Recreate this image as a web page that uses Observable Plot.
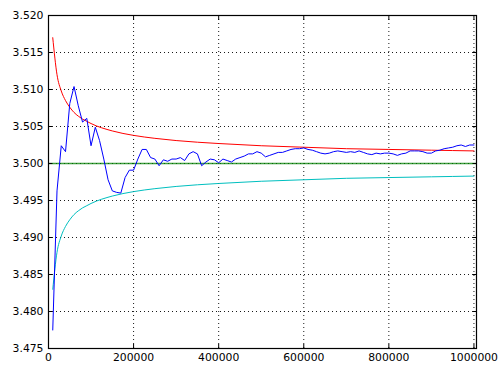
<!DOCTYPE html>
<html>
<head>
<meta charset="utf-8">
<script src="https://cdn.jsdelivr.net/npm/d3@7"></script>
<script src="https://cdn.jsdelivr.net/npm/@observablehq/plot@0.6"></script>
<style>
  html, body { margin: 0; padding: 0; background: #fff; }
  #chart svg { display: block; }
</style>
</head>
<body>
<div id="chart"></div>
<script>
// Sample counts for the noisy estimate (blue)
const samples = [
  10000, 20000, 30000, 40000, 50000, 60000, 70000, 80000, 90000, 100000,
  110000, 120000, 130000, 140000, 150000, 160000, 170000, 180000, 190000, 200000,
  210000, 220000, 230000, 240000, 250000, 260000, 270000, 280000, 290000, 300000,
  310000, 320000, 330000, 340000, 350000, 360000, 370000, 380000, 390000, 400000,
  410000, 420000, 430000, 440000, 450000, 460000, 470000, 480000, 490000, 500000,
  510000, 520000, 530000, 540000, 550000, 560000, 570000, 580000, 590000, 600000,
  610000, 620000, 630000, 640000, 650000, 660000, 670000, 680000, 690000, 700000,
  710000, 720000, 730000, 740000, 750000, 760000, 770000, 780000, 790000, 800000,
  810000, 820000, 830000, 840000, 850000, 860000, 870000, 880000, 890000, 900000,
  910000, 920000, 930000, 940000, 950000, 960000, 970000, 980000, 990000, 1000000
];
const estimate = [
  3.4775, 3.4963, 3.5024, 3.5016, 3.5081, 3.5104, 3.5078, 3.5056, 3.5061, 3.5024,
  3.5049, 3.5031, 3.5006, 3.4978, 3.4963, 3.4961, 3.4960, 3.4981, 3.4991, 3.4991,
  3.5006, 3.5019, 3.5019, 3.5008, 3.5006, 3.4997, 3.5005, 3.5003, 3.5006, 3.5006,
  3.5008, 3.5004, 3.5013, 3.5016, 3.5013, 3.4997, 3.5002, 3.5006, 3.5005, 3.5001,
  3.5006, 3.5004, 3.5002, 3.5006, 3.5008, 3.5010, 3.5013, 3.5013, 3.5016, 3.5014,
  3.5009, 3.5011, 3.5013, 3.5015, 3.5015, 3.5017, 3.5019, 3.5020, 3.5020, 3.5021,
  3.5019, 3.5018, 3.5016, 3.5014, 3.5013, 3.5014, 3.5016, 3.5017, 3.5016, 3.5015,
  3.5016, 3.5015, 3.5017, 3.5015, 3.5013, 3.5012, 3.5014, 3.5013, 3.5014, 3.5014,
  3.5013, 3.5011, 3.5013, 3.5014, 3.5017, 3.5017, 3.5017, 3.5016, 3.5014, 3.5014,
  3.5017, 3.5018, 3.5020, 3.5021, 3.5022, 3.5024, 3.5025, 3.5023, 3.5025, 3.5025
];

// Envelope curves (red upper, cyan lower), read at selected sample counts
const bandN = [
  10000, 20000, 30000, 40000, 50000, 60000, 70000, 80000, 90000, 100000,
  150000, 200000, 250000, 300000, 400000, 500000, 600000, 700000, 800000, 900000, 1000000
];
const upper = [
  3.5170, 3.5120, 3.5098, 3.5085, 3.5076, 3.5069, 3.5064, 3.5060, 3.5057, 3.5054,
  3.5044, 3.5038, 3.5034, 3.5031, 3.5027, 3.5024, 3.5022, 3.5020, 3.5019, 3.5018, 3.5017
];
const lower = [
  3.4830, 3.4880, 3.4902, 3.4915, 3.4924, 3.4931, 3.4936, 3.4940, 3.4943, 3.4946,
  3.4956, 3.4962, 3.4966, 3.4969, 3.4973, 3.4976, 3.4978, 3.4980, 3.4981, 3.4982, 3.4983
];
const target = [3.5];

const xTicks = [0, 200000, 400000, 600000, 800000, 1000000];
const yTicks = [3.475, 3.480, 3.485, 3.490, 3.495, 3.500, 3.505, 3.510, 3.515, 3.520];

const est = samples.map((n, i) => ({n, v: estimate[i]}));
const up = bandN.map((n, i) => ({n, v: upper[i]}));
const lo = bandN.map((n, i) => ({n, v: lower[i]}));

const FS = "10.8px";
const FONT = "'DejaVu Sans', sans-serif";

const chart = Plot.plot({
  width: 501,
  height: 365,
  marginLeft: 48,
  marginRight: 25,
  marginTop: 15,
  marginBottom: 17,
  style: {fontFamily: FONT, fontSize: FS, color: "black", background: "white", overflow: "visible"},
  x: {domain: [0, 1006000]},
  y: {domain: [3.475, 3.520]},
  marks: [
    Plot.gridX(xTicks, {stroke: "black", strokeOpacity: 0.9, strokeWidth: 1, strokeDasharray: "1,3"}),
    Plot.gridY(yTicks, {stroke: "black", strokeOpacity: 0.9, strokeWidth: 1, strokeDasharray: "1,3"}),
    Plot.ruleY(target, {y: d => d, stroke: "#008000", strokeWidth: 1.6, strokeOpacity: 0.75}),
    Plot.line(up, {x: "n", y: "v", stroke: "#ff0000", strokeWidth: 1, curve: "monotone-x"}),
    Plot.line(lo, {x: "n", y: "v", stroke: "#00bfbf", strokeWidth: 1, curve: "monotone-x"}),
    Plot.line(est, {x: "n", y: "v", stroke: "#0000ff", strokeWidth: 1}),
    Plot.axisX(xTicks, {anchor: "bottom", tickSize: 0, tickPadding: 5, tickFormat: d3.format("d"), fontSize: FS, label: null}),
    Plot.axisY(yTicks, {anchor: "left", tickSize: 0, tickPadding: 5, tickFormat: d3.format(".3f"), fontSize: FS, label: null}),
    Plot.axisX(xTicks, {anchor: "bottom", tickSize: -4, tickFormat: () => "", label: null}),
    Plot.axisX(xTicks, {anchor: "top", tickSize: -4, tickFormat: () => "", label: null}),
    Plot.axisY(yTicks, {anchor: "left", tickSize: -4, tickFormat: () => "", label: null}),
    Plot.axisY(yTicks, {anchor: "right", tickSize: -4, tickFormat: () => "", label: null}),
    Plot.frame({stroke: "black", strokeWidth: 1.2})
  ]
});
document.getElementById("chart").appendChild(chart);
</script>
</body>
</html>
